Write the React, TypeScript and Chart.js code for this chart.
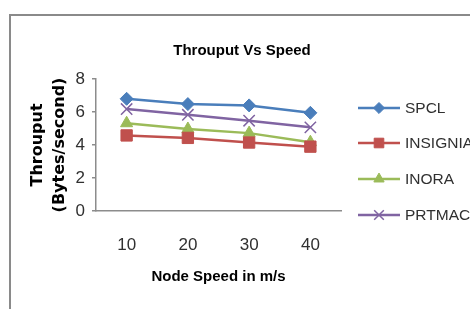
import React, { useEffect, useRef } from "react";
import { Chart, registerables } from "chart.js";
import { drawPoint } from "chart.js/helpers";

Chart.register(...registerables);

const categories = ["10", "20", "30", "40"];
const spcl = [6.8, 6.48, 6.4, 5.95];
const insignia = [4.58, 4.43, 4.15, 3.9];
const inora = [5.32, 4.97, 4.72, 4.17];
const prtmac = [6.18, 5.83, 5.47, 5.07];
const yTicks = [0, 2, 4, 6, 8];

const FONT = "'Liberation Sans', Arial, sans-serif";

const legendPlugin = {
  id: "sideLegend",
  afterDraw(chart: any) {
    const ctx = chart.ctx;
    const ys = [108, 143, 179, 215];
    ctx.save();
    chart.data.datasets.forEach((ds: any, i: number) => {
      const y = ys[i];
      ctx.strokeStyle = ds.borderColor;
      ctx.lineWidth = 2.5;
      ctx.beginPath();
      ctx.moveTo(358, y);
      ctx.lineTo(400, y);
      ctx.stroke();
      ctx.fillStyle = ds.backgroundColor;
      ctx.strokeStyle = ds.borderColor;
      ctx.lineWidth = ds.pointBorderWidth || 1;
      drawPoint(ctx, { pointStyle: ds.pointStyle, radius: ds.pointRadius * 0.85, borderWidth: ds.pointBorderWidth || 1, rotation: 0 }, 379, y);
      ctx.fillStyle = "#303030";
      ctx.font = `15.5px ${FONT}`;
      ctx.textBaseline = "middle";
      ctx.textAlign = "left";
      ctx.fillText(ds.label, 405, y + 1);
    });
    ctx.restore();
  },
};

export default function App() {
  const ref = useRef<HTMLCanvasElement>(null);
  useEffect(() => {
    if (!ref.current) return;
    const mk = (label: string, data: number[], color: string, style: string, r: number, bw = 1) => ({
      label,
      data,
      borderColor: color,
      backgroundColor: color,
      borderWidth: 2.5,
      pointStyle: style,
      pointRadius: r,
      pointBorderWidth: bw,
      pointBackgroundColor: color,
      pointBorderColor: color,
      tension: 0,
      yAxisID: "y",
    });
    const chart = new Chart(ref.current, {
      type: "line",
      data: {
        labels: categories,
        datasets: [
          mk("SPCL", spcl, "#4a7ebb", "rectRot", 6.5),
          mk("INSIGNIA", insignia, "#c0504d", "rect", 8),
          mk("INORA", inora, "#9bbb59", "triangle", 7),
          mk("PRTMAC", prtmac, "#8064a2", "crossRot", 8, 1.5),
        ],
      },
      options: {
        responsive: false,
        animation: false,
        layout: { padding: { left: 0, right: 0, top: 0, bottom: 0 } },
        plugins: {
          legend: { display: false },
          tooltip: { enabled: false },
          title: {
            display: true,
            text: "Throuput Vs Speed",
            color: "#000",
            font: { family: FONT, size: 15, weight: "bold", lineHeight: 1.2 },
            padding: { top: 42, bottom: 19 },
          },
        },
        scales: {
          x: {
            type: "category",
            offset: true,
            afterFit: (s: any) => { s.height = 98; },
            grid: { drawOnChartArea: false, drawTicks: false },
            border: { color: "#8c8c8c", width: 1.5 },
            ticks: { color: "#303030", font: { family: FONT, size: 17 }, padding: 24 },
            title: {
              display: true,
              text: "Node Speed in m/s",
              color: "#000",
              font: { family: FONT, size: 15, weight: "bold", lineHeight: 1.2 },
              padding: { top: 0, bottom: 23 },
            },
          },
          y: {
            min: 0,
            max: 8,
            afterFit: (s: any) => { s.width = 96; },
            afterBuildTicks: (s: any) => { s.ticks = yTicks.map((v) => ({ value: v })); },
            grid: { drawOnChartArea: false, drawTicks: true, tickLength: 4, color: "#8c8c8c", lineWidth: 1.5 },
            border: { color: "#8c8c8c", width: 1.5 },
            ticks: { color: "#303030", font: { family: FONT, size: 17 }, padding: 7 },
            title: {
              display: true,
              text: ["Throuput", "(Bytes/second)"],
              color: "#000",
              font: { family: "'DejaVu Sans', sans-serif", size: 16, weight: "bold", lineHeight: 1.375 },
              padding: { top: 27, bottom: 0 },
            },
          },
          legendSpace: {
            type: "linear",
            position: "right",
            display: true,
            afterFit: (s: any) => { s.width = 143; },
            grid: { display: false, drawTicks: false },
            border: { display: false },
            ticks: { display: false },
          },
        },
      },
      plugins: [legendPlugin],
    } as any);
    return () => chart.destroy();
  }, []);

  return (
    <div style={{ position: "fixed", left: 0, top: 0, width: 470, height: 309, overflow: "hidden", background: "#fff" }}>
      <div
        style={{
          position: "absolute",
          left: 9,
          top: 14,
          width: 600,
          height: 400,
          borderLeft: "2.5px solid #8a8a8a",
          borderTop: "2.5px solid #8a8a8a",
          boxSizing: "border-box",
        }}
      />
      <canvas ref={ref} width={484} height={309} style={{ position: "absolute", left: 0, top: 0, width: 484, height: 309 }} />
    </div>
  );
}
